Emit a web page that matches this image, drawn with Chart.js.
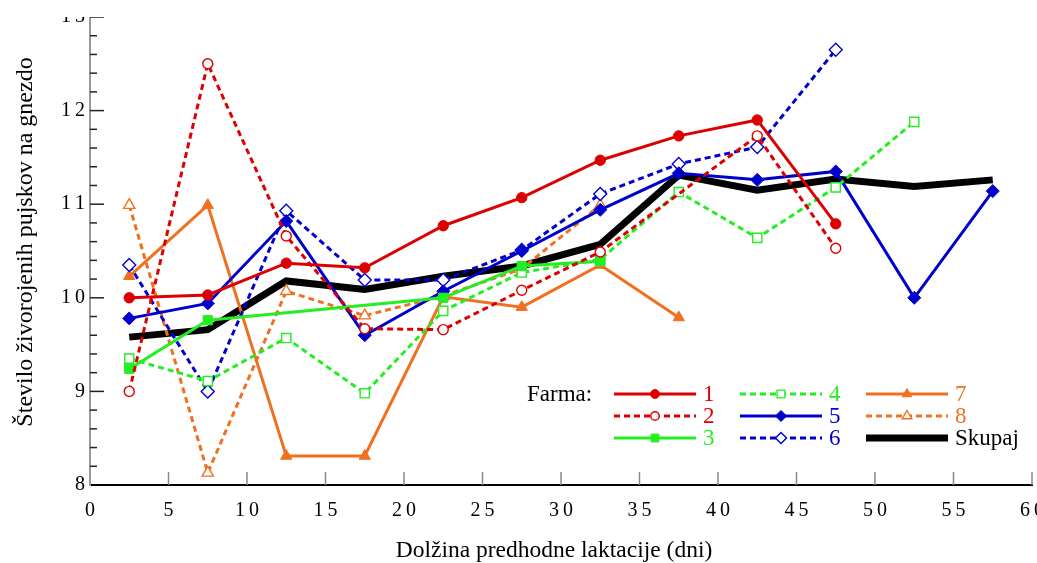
<!DOCTYPE html>
<html><head><meta charset="utf-8">
<script src="https://cdn.jsdelivr.net/npm/chart.js@4.4.0/dist/chart.umd.min.js"></script>
<style>html,body{margin:0;padding:0;background:#fff;overflow:hidden}#wrap{position:relative;width:1037px;height:563px;overflow:hidden}#c{position:absolute;left:0;top:17px}</style>
</head><body><div id="wrap"><canvas id="c" width="1037" height="546"></canvas></div>
<script>
// ---- data ----
const xValues = [2.5, 7.5, 12.5, 17.5, 22.5, 27.5, 32.5, 37.5, 42.5, 47.5, 52.5, 57.5];
const farm1  = [10.00, 10.03, 10.37, 10.32, 10.77, 11.07, 11.47, 11.73, 11.90, 10.79, null, null];
const farm2  = [9.00, 12.50, 10.66, 9.67, 9.66, 10.08, 10.49, null, 11.73, 10.53, null, null];
const farm3  = [9.24, 9.76, null, null, 10.00, 10.34, 10.39, null, null, null, null, null];
const farm4  = [9.35, 9.11, 9.57, 8.98, 9.86, 10.27, 10.41, 11.13, 10.64, 11.18, 11.88, null];
const farm5  = [9.78, 9.94, 10.82, 9.60, 10.07, 10.50, 10.94, 11.33, 11.26, 11.35, 10.00, 11.14];
const farm6  = [10.35, 9.00, 10.93, 10.19, 10.19, 10.51, 11.11, 11.43, 11.61, 12.65, null, null];
const farm7  = [10.23, 10.99, 8.31, 8.31, 10.01, 9.90, 10.35, 9.79, null, null, null, null];
const farm8  = [10.99, 8.13, 10.07, 9.81, 10.02, 10.31, 10.99, null, null, null, null, null];
const skupaj = [9.58, 9.66, 10.18, 10.09, 10.23, 10.34, 10.57, 11.31, 11.15, 11.27, 11.19, 11.26];
const xTicks = [0, 5, 10, 15, 20, 25, 30, 35, 40, 45, 50, 55, 60];
const yTicks = [8, 9, 10, 11, 12, 13];
const seriesLabels = ['1', '2', '3', '4', '5', '6', '7', '8', 'Skupaj'];
const xTitle = 'Dolžina predhodne laktacije (dni)';
const yTitle = 'Število živorojenih pujskov na gnezdo';
const legendTitle = 'Farma:';

// ---- styles ----
const RED = '#dd0000', GREEN = '#22ee22', BLUE = '#0000cc', ORANGE = '#f07020', BLACK = '#000000';
const DASH = [6, 4];
const styles = [
  {c: RED, dash: [], ps: 'circle', fill: true, r: 5.2, w: 3},
  {c: RED, dash: DASH, ps: 'circle', fill: false, r: 5, w: 3},
  {c: GREEN, dash: [], ps: 'rect', fill: true, r: 6.5, w: 3},
  {c: GREEN, dash: DASH, ps: 'rect', fill: false, r: 6.5, w: 3},
  {c: BLUE, dash: [], ps: 'rectRot', fill: true, r: 6.5, w: 3},
  {c: BLUE, dash: DASH, ps: 'rectRot', fill: false, r: 6.5, w: 3},
  {c: ORANGE, dash: [], ps: 'triangle', fill: true, r: 6.5, w: 3},
  {c: ORANGE, dash: DASH, ps: 'triangle', fill: false, r: 6.5, w: 3},
  {c: BLACK, dash: [], ps: false, fill: true, r: 0, w: 7}
];
const allSeries = [farm1, farm2, farm3, farm4, farm5, farm6, farm7, farm8, skupaj];

function toPoints(arr) {
  const out = [];
  arr.forEach((v, i) => { if (v !== null) out.push({x: xValues[i], y: v}); });
  return out;
}

const datasets = allSeries.map((arr, i) => {
  const s = styles[i];
  return {
    label: seriesLabels[i],
    data: toPoints(arr),
    borderColor: s.c,
    borderWidth: s.w,
    borderDash: s.dash,
    backgroundColor: s.fill ? s.c : '#ffffff',
    pointStyle: s.ps,
    pointRadius: s.r,
    pointBorderWidth: s.fill ? 1 : 1.4,
    pointBorderColor: s.c,
    pointBackgroundColor: s.fill ? s.c : '#ffffff',
    tension: 0,
    fill: false,
    order: i === 8 ? 100 : i,
    clip: false
  };
});

const SERIF = "'Liberation Serif', 'Times New Roman', serif";
const fmt = v => String(v).split('').join('\u2009');
const OFF = 17; // canvas top offset within page

function drawMarker(ctx, style, x, y, r, fill, color, bw) {
  ctx.save();
  ctx.setLineDash([]);
  ctx.fillStyle = fill ? color : '#ffffff';
  ctx.strokeStyle = color;
  ctx.lineWidth = bw;
  ctx.beginPath();
  if (style === 'circle') {
    ctx.arc(x, y, r, 0, Math.PI * 2);
  } else if (style === 'rect') {
    const s = Math.SQRT1_2 * r;
    ctx.rect(x - s, y - s, 2 * s, 2 * s);
  } else if (style === 'rectRot') {
    ctx.moveTo(x - r, y); ctx.lineTo(x, y - r); ctx.lineTo(x + r, y); ctx.lineTo(x, y + r);
    ctx.closePath();
  } else if (style === 'triangle') {
    ctx.moveTo(x, y - r);
    ctx.lineTo(x + Math.sin(Math.PI * 2 / 3) * r, y - Math.cos(Math.PI * 2 / 3) * r);
    ctx.lineTo(x + Math.sin(Math.PI * 4 / 3) * r, y - Math.cos(Math.PI * 4 / 3) * r);
    ctx.closePath();
  }
  ctx.fill();
  ctx.stroke();
  ctx.restore();
}

const decor = {
  id: 'decor',
  beforeDatasetsDraw(chart) {
    const ctx = chart.ctx;
    const xs = chart.scales.x, ys = chart.scales.y;
    const {left, bottom} = chart.chartArea;
    ctx.save();
    ctx.setLineDash([]);
    ctx.strokeStyle = '#888888';
    ctx.lineWidth = 1.5;
    xTicks.forEach(v => {
      if (v === 0) return;
      const px = xs.getPixelForValue(v);
      ctx.beginPath(); ctx.moveTo(px, bottom); ctx.lineTo(px, bottom - 13); ctx.stroke();
    });
    ctx.strokeStyle = '#222222';
    for (let k = 1; k <= 25; k++) {
      const v = 8 + k * 0.2;
      const py = ys.getPixelForValue(v);
      const major = k % 5 === 0;
      ctx.beginPath(); ctx.moveTo(left, py); ctx.lineTo(left + (major ? 14 : 7), py); ctx.stroke();
    }
    ctx.restore();
  },
  afterDraw(chart) {
    const ctx = chart.ctx;
    ctx.save();
    ctx.fillStyle = '#000';
    ctx.font = '23.5px ' + SERIF;
    ctx.textAlign = 'center';
    ctx.textBaseline = 'alphabetic';
    ctx.fillText(xTitle, 554, 557 - OFF);
    ctx.save();
    ctx.translate(32, 242 - OFF);
    ctx.rotate(-Math.PI / 2);
    ctx.font = '24px ' + SERIF;
    ctx.fillText(yTitle, 0, 0);
    ctx.restore();
    ctx.font = '23px ' + SERIF;
    ctx.textAlign = 'left';
    ctx.textBaseline = 'middle';
    ctx.fillText(legendTitle, 527, 395 - OFF);
    const rowsY = [394, 416, 438].map(v => v - OFF);
    const cols = [{x0: 614, x1: 696, lx: 703}, {x0: 740, x1: 822, lx: 829}, {x0: 866, x1: 948, lx: 955}];
    seriesLabels.forEach((lab, i) => {
      const s = styles[i];
      const col = cols[Math.floor(i / 3)];
      const y = rowsY[i % 3];
      ctx.save();
      ctx.strokeStyle = s.c;
      ctx.lineWidth = s.w;
      ctx.setLineDash(s.dash);
      ctx.beginPath(); ctx.moveTo(col.x0, y); ctx.lineTo(col.x1, y); ctx.stroke();
      ctx.restore();
      if (s.ps) drawMarker(ctx, s.ps, (col.x0 + col.x1) / 2, y, s.r * 0.85, s.fill, s.c, s.fill ? 1 : 1.4);
      ctx.fillStyle = s.c;
      ctx.fillText(lab, col.lx, y + 1);
    });
    ctx.restore();
  }
};

new Chart(document.getElementById('c'), {
  type: 'line',
  data: {datasets},
  plugins: [decor],
  options: {
    responsive: false,
    animation: false,
    devicePixelRatio: 1,
    layout: {autoPadding: false, padding: {left: 0, right: 5, top: 0, bottom: 0}},
    plugins: {legend: {display: false}, tooltip: {enabled: false}, title: {display: false}},
    scales: {
      x: {
        type: 'linear', min: 0, max: 60,
        afterBuildTicks: s => { s.ticks = xTicks.map(v => ({value: v})); },
        grid: {display: false, drawTicks: false},
        border: {color: '#000', width: 2},
        ticks: {padding: 14, color: '#000', font: {family: SERIF, size: 20}, maxRotation: 0, autoSkip: false, callback: v => fmt(v)},
        afterFit: s => { s.height = 78; s.paddingLeft = 0; s.paddingRight = 0; }
      },
      y: {
        type: 'linear', min: 8, max: 13,
        afterBuildTicks: s => { s.ticks = yTicks.map(v => ({value: v})); },
        grid: {display: false, drawTicks: false},
        border: {color: '#999', width: 2},
        ticks: {padding: 5, color: '#000', font: {family: SERIF, size: 20}, autoSkip: false, callback: v => fmt(v)},
        afterFit: s => { s.width = 90; s.paddingTop = 0; s.paddingBottom = 0; }
      }
    }
  }
});
</script></body></html>
